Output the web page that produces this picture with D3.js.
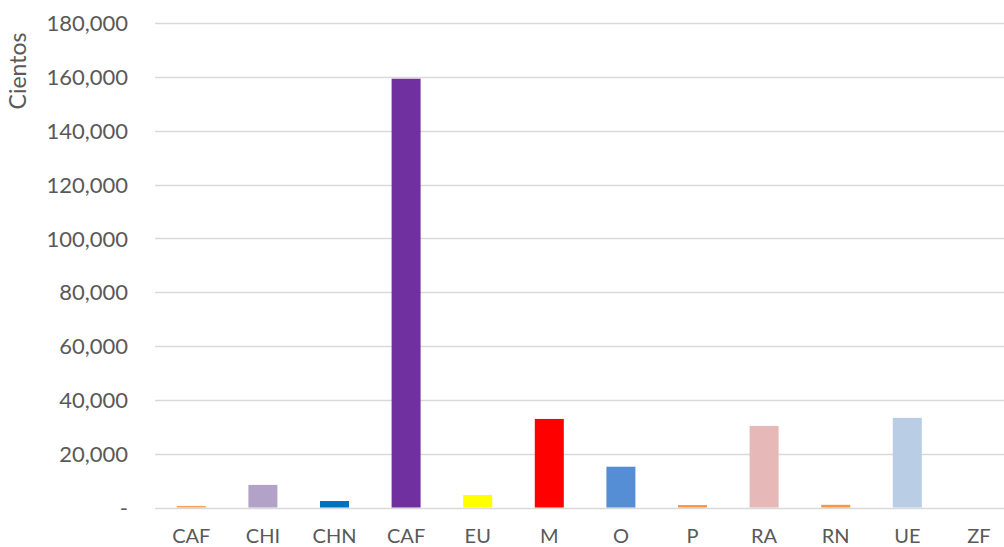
<!DOCTYPE html>
<html>
<head>
<meta charset="utf-8">
<script src="https://cdn.jsdelivr.net/npm/d3@7"></script>
<style>
  body { margin: 0; background: #fff; }
  text { font-family: Lato, "Open Sans", sans-serif; fill: #595959; }
</style>
</head>
<body>
<div class="chart"></div>
<script>
// data (hundreds)
var categories = ["CAF", "CHI", "CHN", "CAF", "EU", "M", "O", "P", "RA", "RN", "UE", "ZF"];
var values = [600, 8400, 2400, 159300, 4650, 32900, 15150, 900, 30300, 1000, 33300, 0];
var colors = ["#f9a15a", "#b3a2c7", "#0070c0", "#7030a0", "#ffff00", "#ff0000",
              "#558ed5", "#f79646", "#e6b9b8", "#f79646", "#b9cde5", "#cccccc"];
var yTicks = [0, 20000, 40000, 60000, 80000, 100000, 120000, 140000, 160000, 180000];

var width = 1004, height = 547;
var svg = d3.select(".chart").append("svg")
    .attr("width", width)
    .attr("height", height);

var x = d3.scaleBand()
    .domain(d3.range(categories.length))
    .range([155.5, 1014.7])
    .paddingInner(0.595)
    .paddingOuter(0.2975);

var y = d3.scaleLinear()
    .domain([0, 180000])
    .range([507.5, 23]);

// gridlines
svg.append("g")
    .selectAll("line")
    .data(yTicks)
    .join("line")
    .attr("x1", 155)
    .attr("x2", width)
    .attr("y1", function (d) { return Math.round(y(d)) + 0.5; })
    .attr("y2", function (d) { return Math.round(y(d)) + 0.5; })
    .attr("stroke", "#d9d9d9")
    .attr("stroke-width", 1.5);

// y labels
var yAxis = svg.append("g")
    .attr("transform", "translate(128,0)")
    .call(d3.axisLeft(y).tickValues(yTicks).tickSize(0).tickPadding(0)
      .tickFormat(function (d) { return d === 0 ? "-" : d3.format(",")(d); }));
yAxis.select(".domain").remove();
yAxis.selectAll("text")
    .style("font-size", "22px")
    .style("font-family", "Lato, sans-serif")
    .attr("fill", "#595959")
    .attr("dy", "0.35em");

// bars
svg.append("g")
    .selectAll("rect")
    .data(values)
    .join("rect")
    .attr("x", function (d, i) { return x(i); })
    .attr("width", x.bandwidth())
    .attr("y", function (d) { return y(d); })
    .attr("height", function (d) { return y(0) - y(d); })
    .attr("fill", function (d, i) { return colors[i]; });

// x labels
var xAxis = svg.append("g")
    .attr("transform", "translate(0,507.5)")
    .call(d3.axisBottom(x).tickSize(0).tickPadding(21)
      .tickFormat(function (i) { return categories[i]; }));
xAxis.select(".domain").remove();
xAxis.selectAll("text")
    .style("font-size", "20px")
    .style("font-family", "Lato, sans-serif")
    .attr("fill", "#595959");

// axis title
svg.append("text")
    .attr("transform", "translate(26,71) rotate(-90)")
    .attr("text-anchor", "middle")
    .style("font-size", "23px")
    .style("font-family", "Lato, sans-serif")
    .attr("fill", "#595959")
    .text("Cientos");
</script>
</body>
</html>
